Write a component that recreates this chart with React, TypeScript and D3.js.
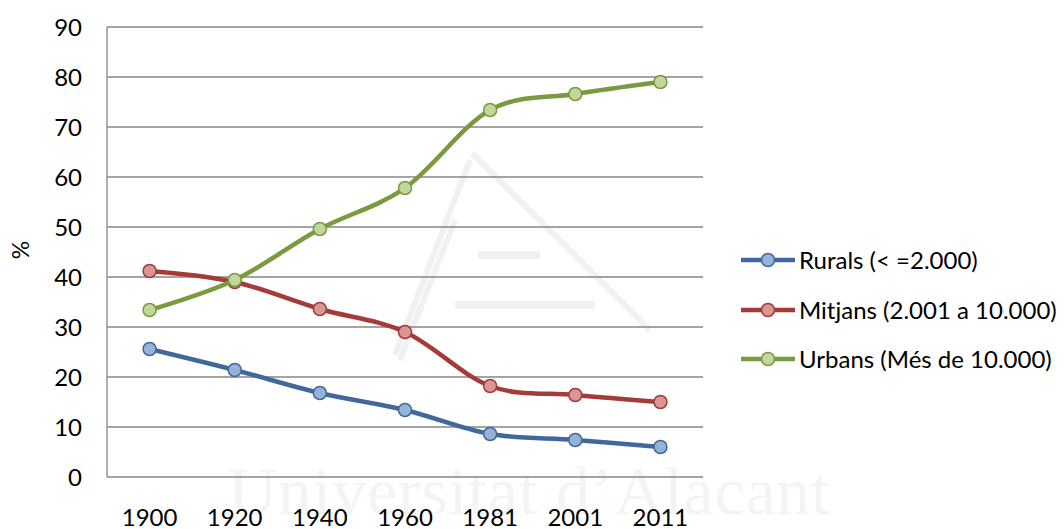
import React from "react";
import * as d3 from "d3";

const categories = ["1900", "1920", "1940", "1960", "1981", "2001", "2011"];
const rurals = [25.6, 21.4, 16.8, 13.4, 8.6, 7.4, 6.0];
const mitjans = [41.2, 39.0, 33.6, 29.0, 18.2, 16.4, 15.0];
const urbans = [33.4, 39.4, 49.6, 57.8, 73.4, 76.6, 79.0];
const yTicks = [0, 10, 20, 30, 40, 50, 60, 70, 80, 90];
const seriesNames = ["Rurals (< =2.000)", "Mitjans (2.001 a 10.000)", "Urbans (Més de 10.000)"];

const styles = [
  { line: "#41689C", fill: "#95B3D7" },
  { line: "#A33B38", fill: "#D99694" },
  { line: "#7A9A3F", fill: "#C3D69B" },
];

const FONT = "Lato, 'Open Sans', sans-serif";

export default function App() {
  const W = 1064, H = 529;
  const left = 107, right = 703, top = 27, bottom = 477;
  const x = d3.scalePoint<string>().domain(categories).range([left, right]).padding(0.5);
  const y = d3.scaleLinear().domain([0, 90]).range([bottom, top]);
  const line = d3
    .line<number>()
    .x((_, i) => x(categories[i]) as number)
    .y((d) => y(d))
    .curve(d3.curveCardinal.tension(0));
  const series = [rurals, mitjans, urbans];
  const legendY = [260, 310, 359];

  return (
    <svg width={W} height={H} style={{ position: "absolute", left: 0, top: 0, background: "#fff" }} fontFamily={FONT}>
      {/* watermark */}
      <g opacity={0.05} fill="none" stroke="#000" strokeWidth={6}>
        <path d="M470 160 L395 355 M472 153 L650 330 M455 220 L400 360" />
        <path d="M478 255 L540 255 M455 305 L595 305" strokeWidth={8} />
      </g>
      <text x={228} y={514} fontFamily="'Liberation Serif', serif" fontSize={68} fill="#000" opacity={0.04} textLength={602}>
        Universitat d’Alacant
      </text>
      {/* grid */}
      {yTicks.map((t) => (
        <line key={t} x1={left} x2={right} y1={y(t)} y2={y(t)} stroke="#868686" strokeWidth={1.3} />
      ))}
      <line x1={left} x2={left} y1={top} y2={bottom} stroke="#868686" strokeWidth={1.3} />
      {yTicks.map((t) => (
        <text key={t} x={82} y={y(t)} dy="0.36em" textAnchor="end" fontSize={24} fill="#000">
          {t}
        </text>
      ))}
      {categories.map((c) => (
        <text key={c} x={x(c)} y={517} dy="0.36em" textAnchor="middle" fontSize={24} fill="#000">
          {c}
        </text>
      ))}
      <text transform="translate(21,250) rotate(-90)" textAnchor="middle" dy="0.36em" fontSize={23} fill="#000">
        %
      </text>
      {series.map((s, i) => (
        <g key={i}>
          <path d={line(s) || ""} fill="none" stroke={styles[i].line} strokeWidth={4.5} strokeLinejoin="round" />
          {s.map((v, j) => (
            <circle key={j} cx={x(categories[j])} cy={y(v)} r={6.5} fill={styles[i].fill} stroke={styles[i].line} strokeWidth={1.5} />
          ))}
        </g>
      ))}
      {seriesNames.map((n, i) => (
        <g key={n}>
          <line x1={741} x2={795} y1={legendY[i]} y2={legendY[i]} stroke={styles[i].line} strokeWidth={4.5} />
          <circle cx={768} cy={legendY[i]} r={6.5} fill={styles[i].fill} stroke={styles[i].line} strokeWidth={1.5} />
          <text x={799} y={legendY[i]} dy="0.36em" fontSize={24} fill="#000">
            {n}
          </text>
        </g>
      ))}
    </svg>
  );
}
